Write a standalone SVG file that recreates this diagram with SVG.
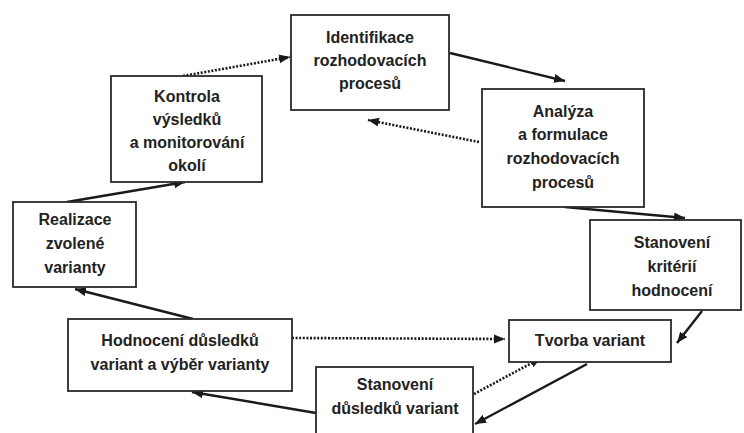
<svg xmlns="http://www.w3.org/2000/svg" width="744" height="433" viewBox="0 0 744 433">
<style>
.box{fill:#fff;stroke:#2a2a2a;stroke-width:1.8}
.t{font-family:"Liberation Sans",Arial,sans-serif;font-weight:bold;font-size:16px;fill:#222;text-anchor:middle}
.s{fill:none;stroke:#1a1a1a;stroke-width:2.4;marker-end:url(#ah)}
.d{fill:none;stroke:#1a1a1a;stroke-width:2.6;stroke-dasharray:2 1.6;marker-end:url(#ah)}
</style>
<defs>
<marker id="ah" markerUnits="userSpaceOnUse" markerWidth="12" markerHeight="10" refX="11" refY="4.5" orient="auto">
<path d="M0,0 L11,4.5 L0,9 z" fill="#1a1a1a"/>
</marker>
</defs>
<rect width="744" height="433" fill="#fff"/>
<g id="connectors">
<path class="d" d="M183,76 L290,57"/>
<path class="s" d="M450,53 L565,81"/>
<path class="d" d="M479,142 L368,120"/>
<path class="s" d="M565,207 L685,218"/>
<path class="s" d="M702,311 L677,343"/>
<path class="s" d="M587,364 L475,424"/>
<path class="d" d="M474,394 L541,358"/>
<path class="d" d="M292,338 L505,339"/>
<path class="s" d="M316,413 L192,392"/>
<path class="s" d="M193,319 L75,289"/>
<path class="s" d="M67,202 L185,182"/>
</g>
<g id="identifikace">
<rect class="box" x="291" y="15" width="158" height="95"/>
<text class="t" x="370" y="43">Identifikace</text>
<text class="t" x="370" y="66">rozhodovacích</text>
<text class="t" x="370" y="89">procesů</text>
</g>
<g id="analyza">
<rect class="box" x="482" y="89" width="162" height="118"/>
<text class="t" x="563" y="117">Analýza</text>
<text class="t" x="563" y="140">a formulace</text>
<text class="t" x="563" y="164">rozhodovacích</text>
<text class="t" x="563" y="188">procesů</text>
</g>
<g id="stanoveni-kriterii">
<rect class="box" x="590" y="220" width="151" height="90"/>
<text class="t" x="672" y="248">Stanovení</text>
<text class="t" x="672" y="272">kritérií</text>
<text class="t" x="672" y="296">hodnocení</text>
</g>
<g id="tvorba">
<rect class="box" x="509" y="320" width="162" height="42"/>
<text class="t" x="590" y="346">Tvorba variant</text>
</g>
<g id="stanoveni-dusledku">
<rect class="box" x="316" y="367" width="157" height="70"/>
<text class="t" x="395" y="390">Stanovení</text>
<text class="t" x="395" y="414">důsledků variant</text>
</g>
<g id="hodnoceni">
<rect class="box" x="68" y="319" width="224" height="72"/>
<text class="t" x="180" y="346">Hodnocení důsledků</text>
<text class="t" x="180" y="370">variant a výběr varianty</text>
</g>
<g id="realizace">
<rect class="box" x="13" y="202" width="123" height="85"/>
<text class="t" x="75" y="225">Realizace</text>
<text class="t" x="75" y="249">zvolené</text>
<text class="t" x="75" y="273">varianty</text>
</g>
<g id="kontrola">
<rect class="box" x="111" y="76" width="151" height="106"/>
<text class="t" x="187" y="102">Kontrola</text>
<text class="t" x="187" y="125">výsledků</text>
<text class="t" x="187" y="148">a monitorování</text>
<text class="t" x="187" y="171">okolí</text>
</g>
</svg>
